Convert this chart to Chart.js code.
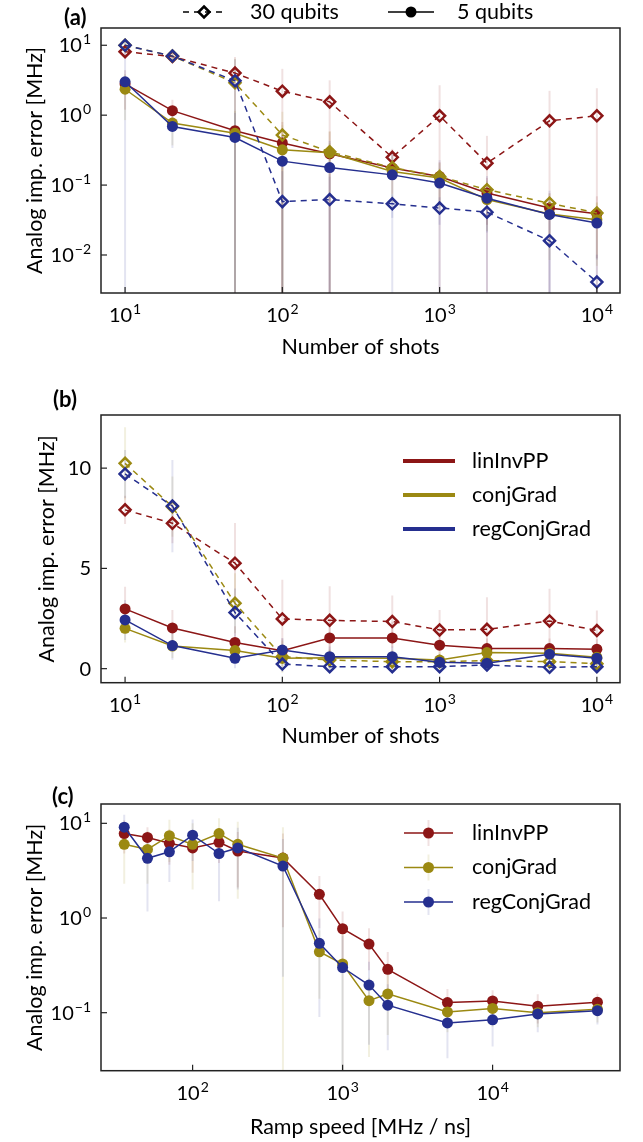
<!DOCTYPE html>
<html>
<head>
<meta charset="utf-8">
<script src="https://cdn.jsdelivr.net/npm/chart.js@4.4.0/dist/chart.umd.min.js"></script>
<style>
  html, body { margin: 0; padding: 0; background: #fff; }
  #wrap { position: relative; width: 643px; height: 1142px; }
  .panel { position: absolute; left: 0; width: 643px; }
</style>
</head>
<body>
<div id="wrap">
  <div class="panel" style="top:0;height:380px"><canvas id="chart-a"></canvas></div>
  <div class="panel" style="top:380px;height:395px"><canvas id="chart-b"></canvas></div>
  <div class="panel" style="top:775px;height:367px"><canvas id="chart-c"></canvas></div>
</div>
<script>
'use strict';

//  DATA
const shots = [10, 20, 50, 100, 200, 500, 1000, 2000, 5000, 10000];
const rampSpeed = [35, 50, 70, 100, 150, 200, 400, 700, 1000, 1500, 2000, 5000, 10000, 20000, 50000];
const methodNames = ['linInvPP', 'conjGrad', 'regConjGrad'];
const qubitLabels = ['30 qubits', '5 qubits'];

// tick positions (exponents for log axes)
const shotTicks = [1, 2, 3, 4];
const errTicksA = [-2, -1, 0, 1];
const errTicksB = [0, 5, 10];
const rampTicks = [2, 3, 4];
const errTicksC = [-1, 0, 1];

// (a) log scale
const aLin30 = [8.1, 6.9, 4.0, 2.2, 1.55, 0.25, 0.98, 0.206, 0.83, 0.98];
const aLin30Err = [1.5, 1.2, 2.8, 2.4, 1.6, 0.08, 1.7, 0.3, 1.4, 1.45];
const aConj30 = [10, 7.0, 2.9, 0.52, 0.30, 0.178, 0.133, 0.086, 0.055, 0.040];
const aConj30Err = [1.5, 1.0, 3.5, 0.6, 0.1, 0.05, 0.04, 0.03, 0.02, 0.015];
const aReg30 = [10, 7.0, 3.1, 0.058, 0.062, 0.054, 0.047, 0.041, 0.016, 0.0041];
const aReg30Err = [1.5, 1.0, 3.2, 0.1, 0.07, 0.02, 0.02, 0.02, 0.02, 0.006];
const aLin5 = [2.8, 1.16, 0.60, 0.40, 0.28, 0.175, 0.133, 0.077, 0.047, 0.039];
const aLin5Err = [1.6, 0.5, 0.6, 0.4, 0.3, 0.1, 0.08, 0.05, 0.03, 0.03];
const aConj5 = [2.35, 0.77, 0.55, 0.32, 0.29, 0.156, 0.126, 0.062, 0.0385, 0.032];
const aConj5Err = [1.5, 0.4, 0.6, 0.4, 0.3, 0.1, 0.08, 0.04, 0.03, 0.025];
const aReg5 = [3.0, 0.69, 0.48, 0.22, 0.178, 0.14, 0.107, 0.065, 0.038, 0.0286];
const aReg5Err = [7.5, 0.35, 0.6, 0.3, 0.25, 0.15, 0.12, 0.07, 0.045, 0.02];

// (b) linear scale
const bLin30 = [7.92, 7.25, 5.26, 2.48, 2.41, 2.35, 1.93, 1.96, 2.38, 1.9];
const bLin30Err = [0.7, 1.0, 2.0, 1.95, 1.7, 1.3, 1.0, 1.6, 1.6, 1.0];
const bConj30 = [10.24, 8.08, 3.26, 0.6, 0.43, 0.35, 0.35, 0.4, 0.35, 0.25];
const bConj30Err = [1.8, 1.5, 1.5, 0.8, 0.5, 0.5, 0.5, 0.5, 0.5, 0.5];
const bReg30 = [9.71, 8.11, 2.8, 0.23, 0.1, 0.1, 0.1, 0.18, 0.07, 0.1];
const bReg30Err = [1.2, 2.3, 1.2, 0.4, 0.3, 0.3, 0.3, 0.3, 0.3, 0.3];
const bLin5 = [2.98, 2.03, 1.31, 0.9, 1.53, 1.53, 1.17, 1.0, 1.0, 0.97];
const bLin5Err = [1.1, 0.9, 0.8, 0.6, 0.9, 0.8, 0.6, 0.5, 0.5, 0.5];
const bConj5 = [2.01, 1.13, 0.9, 0.52, 0.55, 0.52, 0.43, 0.8, 0.77, 0.57];
const bConj5Err = [0.7, 0.6, 0.5, 0.4, 0.4, 0.4, 0.3, 0.5, 0.5, 0.4];
const bReg5 = [2.43, 1.15, 0.52, 0.93, 0.6, 0.6, 0.32, 0.27, 0.72, 0.52];
const bReg5Err = [1.0, 0.7, 0.5, 0.6, 0.5, 0.5, 0.3, 0.3, 0.5, 0.4];

// (c) log scale vs ramp speed
const cLin = [7.8, 7.1, 6.15, 5.5, 6.3, 5.1, 4.3, 1.78, 0.77, 0.53, 0.287, 0.128, 0.133, 0.117, 0.129];
const cLinErr = [3.0, 2.0, 2.5, 2.5, 2.5, 3.0, 3.5, 1.0, 0.4, 0.25, 0.15, 0.05, 0.04, 0.04, 0.03];
const cConj = [6.0, 5.3, 7.4, 6.0, 7.8, 6.0, 4.3, 0.44, 0.327, 0.134, 0.158, 0.102, 0.111, 0.1, 0.109];
const cConjErr = [3.7, 3.0, 3.5, 4.0, 3.5, 4.4, 4.8, 0.3, 0.4, 0.1, 0.1, 0.04, 0.04, 0.03, 0.03];
const cReg = [9.1, 4.27, 5.0, 7.5, 4.8, 5.5, 3.54, 0.54, 0.3, 0.196, 0.12, 0.078, 0.084, 0.097, 0.105];
const cRegErr = [3.2, 3.1, 2.6, 3.5, 3.3, 3.5, 3.3, 0.45, 0.35, 0.15, 0.08, 0.045, 0.04, 0.035, 0.03];

//  STYLE
const COLORS = ['#8c1616', '#9b8912', '#252f8f'];
const FONT = 'Lato, "Noto Sans", sans-serif';
const FSIZE = 20;      // tick labels
const TSIZE = 21.5;    // titles and legend text

// HELPERS

function rgba(hex, a) {
  let n = parseInt(hex.slice(1), 16);
  return `rgba(${n >> 16}, ${(n >> 8) & 255}, ${n & 255}, ${a})`;
}

function makeSet(label, xs, ys, errs, color, dashed, order) {
  return {
    label: label,
    data: xs.map((x, i) => ({ x: x, y: ys[i] })),
    errors: errs,
    order: order,
    borderColor: color,
    backgroundColor: color,
    borderWidth: 1.5,
    borderDash: dashed ? [6, 5] : [],
    pointStyle: dashed ? 'rectRot' : 'circle',
    pointRadius: 5.5,
    pointBorderWidth: dashed ? 2.5 : 0,
    pointBorderColor: color,
    pointBackgroundColor: dashed ? 'rgba(0,0,0,0)' : color,
    fill: false,
    tension: 0
  };
}

function drawPow(ctx, exp, x, y, align) {
  let base = '10';
  let sup = exp < 0 ? '\u2212' + (-exp) : String(exp);
  ctx.font = `${FSIZE}px ${FONT}`;
  let wb = ctx.measureText(base).width;
  ctx.font = `${FSIZE - 6}px ${FONT}`;
  let ws = ctx.measureText(sup).width;
  let w = wb + ws + 1;
  let x0 = align === 'center' ? x - w / 2 : x - w;
  ctx.textAlign = 'left';
  ctx.textBaseline = 'alphabetic';
  ctx.font = `${FSIZE}px ${FONT}`;
  ctx.fillText(base, x0, y);
  ctx.font = `${FSIZE - 6}px ${FONT}`;
  ctx.fillText(sup, x0 + wb + 1, y - 8);
}

function errBar(ctx, x, y1, y2, color) {
  ctx.strokeStyle = rgba(color, 0.13);
  ctx.lineWidth = 2;
  ctx.setLineDash([]);
  ctx.beginPath();
  ctx.moveTo(x, y1);
  ctx.lineTo(x, y2);
  ctx.stroke();
}

function drawMarker(ctx, style, x, y, color) {
  ctx.setLineDash([]);
  if (style === 'diamond') {
    ctx.strokeStyle = color;
    ctx.lineWidth = 2.5;
    ctx.beginPath();
    ctx.moveTo(x, y - 5.5); ctx.lineTo(x + 5.5, y); ctx.lineTo(x, y + 5.5); ctx.lineTo(x - 5.5, y);
    ctx.closePath();
    ctx.stroke();
  } else {
    ctx.fillStyle = color;
    ctx.beginPath();
    ctx.arc(x, y, 5.5, 0, Math.PI * 2);
    ctx.fill();
  }
}

// draws error bars, box, inward ticks, tick labels, panel letter and legend
function makeExtras(cfg) {
  return {
    id: 'extras',
    beforeDatasetsDraw(chart) {
      let ctx = chart.ctx;
      let area = chart.chartArea;
      let xs = chart.scales.x;
      let ys = chart.scales.y;
      ctx.save();
      ctx.beginPath();
      ctx.rect(area.left, area.top, area.right - area.left, area.bottom - area.top);
      ctx.clip();
      chart.data.datasets.forEach(ds => {
        ds.data.forEach((p, i) => {
          let e = ds.errors[i];
          let px = xs.getPixelForValue(p.x);
          let top = ys.getPixelForValue(p.y + e);
          let lo = p.y - e;
          let bot = (cfg.yLog && lo <= 0) ? area.bottom : ys.getPixelForValue(lo);
          errBar(ctx, px, top, bot, ds.borderColor);
        });
      });
      ctx.restore();
    },
    afterDraw(chart) {
      let ctx = chart.ctx;
      let area = chart.chartArea;
      let xs = chart.scales.x;
      let ys = chart.scales.y;
      ctx.save();
      ctx.fillStyle = '#000';
      ctx.strokeStyle = '#222';
      ctx.lineWidth = 1.5;
      ctx.strokeRect(area.left, area.top, area.right - area.left, area.bottom - area.top);

      // x ticks
      cfg.xTicks.forEach(k => {
        let px = xs.getPixelForValue(Math.pow(10, k));
        ctx.strokeStyle = '#222';
        ctx.lineWidth = 1.2;
        ctx.beginPath();
        ctx.moveTo(px, area.bottom);
        ctx.lineTo(px, area.bottom - 6);
        ctx.stroke();
        ctx.fillStyle = '#000';
        drawPow(ctx, k, px, area.bottom + 29, 'center');
      });

      // y ticks
      cfg.yTicks.forEach(k => {
        let py = ys.getPixelForValue(cfg.yLog ? Math.pow(10, k) : k);
        ctx.strokeStyle = '#222';
        ctx.lineWidth = 1.2;
        ctx.beginPath();
        ctx.moveTo(area.left, py);
        ctx.lineTo(area.left + 6, py);
        ctx.stroke();
        ctx.fillStyle = '#000';
        if (cfg.yLog) {
          drawPow(ctx, k, area.left - 10, py + 7, 'right');
        } else {
          ctx.font = `${FSIZE}px ${FONT}`;
          ctx.textAlign = 'right';
          ctx.textBaseline = 'alphabetic';
          ctx.fillText(String(k), area.left - 10, py + 7);
        }
      });

      // panel letter
      ctx.font = `bold 22px ${FONT}`;
      ctx.textAlign = 'left';
      ctx.textBaseline = 'middle';
      ctx.fillStyle = '#000';
      ctx.fillText(cfg.letter, cfg.letterX, cfg.letterY);

      // legends
      ctx.font = `${TSIZE}px ${FONT}`;
      ctx.textBaseline = 'middle';
      if (cfg.legend === 'qubits') {
        let y = 12;
        ctx.strokeStyle = '#000';
        ctx.lineWidth = 1.5;
        ctx.setLineDash([6, 5]);
        ctx.beginPath(); ctx.moveTo(183, y); ctx.lineTo(225, y); ctx.stroke();
        drawMarker(ctx, 'diamond', 204, y, '#000');
        ctx.fillStyle = '#000';
        ctx.fillText(qubitLabels[0], 250, y);
        ctx.setLineDash([]);
        ctx.strokeStyle = '#000';
        ctx.lineWidth = 1.5;
        ctx.beginPath(); ctx.moveTo(388, y); ctx.lineTo(434, y); ctx.stroke();
        drawMarker(ctx, 'circle', 411, y, '#000');
        ctx.fillStyle = '#000';
        ctx.fillText(qubitLabels[1], 457, y);
      } else if (cfg.legend === 'lines') {
        methodNames.forEach((name, i) => {
          let y = 81 + i * 34;
          ctx.setLineDash([]);
          ctx.strokeStyle = COLORS[i];
          ctx.lineWidth = 4;
          ctx.beginPath(); ctx.moveTo(403, y); ctx.lineTo(455, y); ctx.stroke();
          ctx.fillStyle = '#000';
          ctx.fillText(name, 472, y);
        });
      } else if (cfg.legend === 'markers') {
        methodNames.forEach((name, i) => {
          let y = 58 + i * 34.5;
          errBar(ctx, 428.5, y - 13, y + 13, COLORS[i]);
          ctx.setLineDash([]);
          ctx.strokeStyle = COLORS[i];
          ctx.lineWidth = 1.5;
          ctx.beginPath(); ctx.moveTo(404, y); ctx.lineTo(453, y); ctx.stroke();
          drawMarker(ctx, 'circle', 428.5, y, COLORS[i]);
          ctx.fillStyle = '#000';
          ctx.fillText(name, 472, y);
        });
      }
      ctx.restore();
    }
  };
}

function makeOptions(p) {
  return {
    responsive: true,
    maintainAspectRatio: false,
    animation: false,
    layout: { padding: { left: 0, right: 23, top: p.top, bottom: 0 } },
    plugins: { legend: { display: false }, tooltip: { enabled: false } },
    scales: {
      x: {
        type: 'logarithmic',
        min: p.xMin,
        max: p.xMax,
        grid: { display: false },
        border: { display: false },
        ticks: { display: false },
        title: {
          display: true,
          text: p.xTitle,
          color: '#000',
          font: { family: FONT, size: TSIZE },
          padding: { top: 0, bottom: p.xTitlePad }
        },
        afterFit: (s) => { s.height = p.xAxisH; }
      },
      y: {
        type: p.yLog ? 'logarithmic' : 'linear',
        min: p.yMin,
        max: p.yMax,
        grid: { display: false },
        border: { display: false },
        ticks: { display: false },
        title: {
          display: true,
          text: 'Analog imp. error [MHz]',
          color: '#000',
          font: { family: FONT, size: TSIZE },
          padding: { top: p.yTitlePad, bottom: 0 }
        },
        afterFit: (s) => { s.width = 101; }
      }
    }
  };
}

// PANEL (a)
let setsA = [
  makeSet(methodNames[0], shots, aLin30, aLin30Err, COLORS[0], true, 6),
  makeSet(methodNames[0], shots, aLin5, aLin5Err, COLORS[0], false, 5),
  makeSet(methodNames[1], shots, aConj30, aConj30Err, COLORS[1], true, 4),
  makeSet(methodNames[1], shots, aConj5, aConj5Err, COLORS[1], false, 3),
  makeSet(methodNames[2], shots, aReg30, aReg30Err, COLORS[2], true, 2),
  makeSet(methodNames[2], shots, aReg5, aReg5Err, COLORS[2], false, 1)
];

new Chart(document.getElementById('chart-a'), {
  type: 'line',
  data: { datasets: setsA },
  options: makeOptions({
    top: 28, xAxisH: 87, xMin: 7.03, xMax: 14030, yLog: true, yMin: 0.00286, yMax: 17.66,
    xTitle: 'Number of shots', xTitlePad: 20, yTitlePad: 22
  }),
  plugins: [makeExtras({ xTicks: shotTicks, yTicks: errTicksA, yLog: true, letter: '(a)', letterX: 64, letterY: 18, legend: 'qubits' })]
});

// PANEL (b)
let setsB = [
  makeSet(methodNames[0], shots, bLin30, bLin30Err, COLORS[0], true, 6),
  makeSet(methodNames[0], shots, bLin5, bLin5Err, COLORS[0], false, 5),
  makeSet(methodNames[1], shots, bConj30, bConj30Err, COLORS[1], true, 4),
  makeSet(methodNames[1], shots, bConj5, bConj5Err, COLORS[1], false, 3),
  makeSet(methodNames[2], shots, bReg30, bReg30Err, COLORS[2], true, 2),
  makeSet(methodNames[2], shots, bReg5, bReg5Err, COLORS[2], false, 1)
];

new Chart(document.getElementById('chart-b'), {
  type: 'line',
  data: { datasets: setsB },
  options: makeOptions({
    top: 35, xAxisH: 92.3, xMin: 7.03, xMax: 14030, yLog: false, yMin: -0.7, yMax: 12.65,
    xTitle: 'Number of shots', xTitlePad: 26, yTitlePad: 34
  }),
  plugins: [makeExtras({ xTicks: shotTicks, yTicks: errTicksB, yLog: false, letter: '(b)', letterX: 53, letterY: 20, legend: 'lines' })]
});

// PANEL (c)
let setsC = [
  makeSet(methodNames[0], rampSpeed, cLin, cLinErr, COLORS[0], false, 3),
  makeSet(methodNames[1], rampSpeed, cConj, cConjErr, COLORS[1], false, 2),
  makeSet(methodNames[2], rampSpeed, cReg, cRegErr, COLORS[2], false, 1)
];

new Chart(document.getElementById('chart-c'), {
  type: 'line',
  data: { datasets: setsC },
  options: makeOptions({
    top: 29, xAxisH: 71.3, xMin: 24.5, xMax: 70700, yLog: true, yMin: 0.0244, yMax: 16.0,
    xTitle: 'Ramp speed [MHz / ns]', xTitlePad: 2, yTitlePad: 22
  }),
  plugins: [makeExtras({ xTicks: rampTicks, yTicks: errTicksC, yLog: true, letter: '(c)', letterX: 52, letterY: 22, legend: 'markers' })]
});
</script>
</body>
</html>
